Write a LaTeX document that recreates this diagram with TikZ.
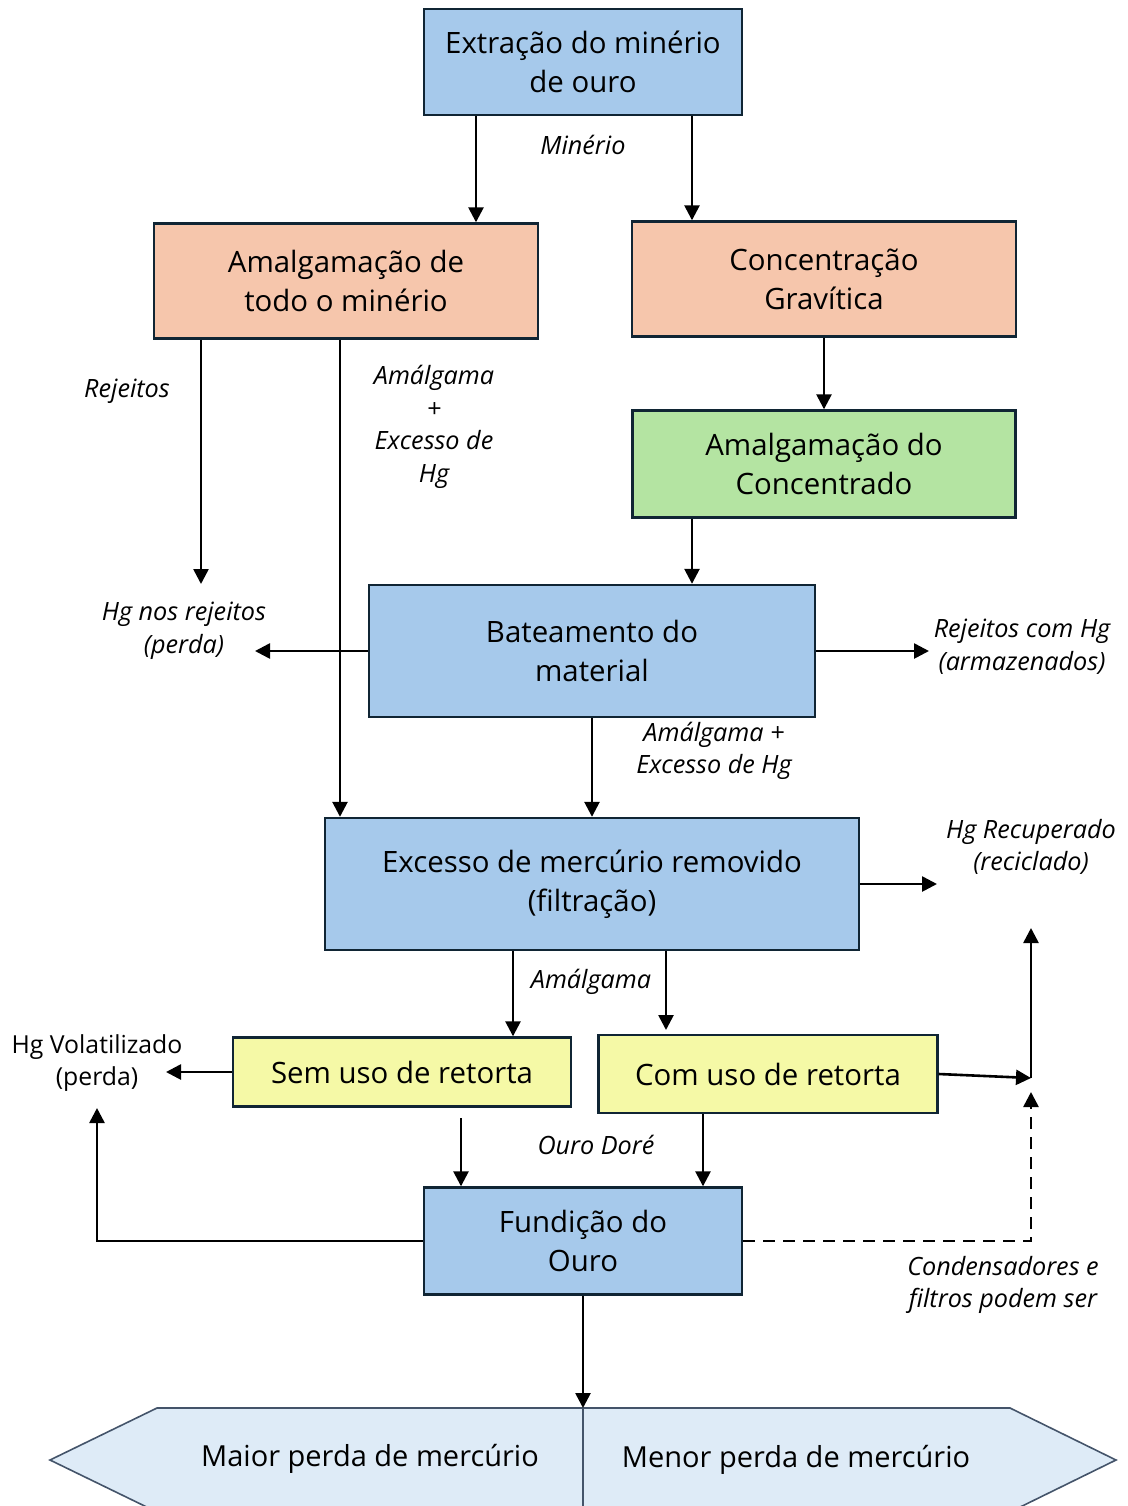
\documentclass[tikz,border=0pt]{standalone}
\usepackage{fontspec}
\setmainfont{Open Sans}
\usepackage{tikz}
\usetikzlibrary{arrows.meta}
\tikzstyle{flowchart} = [x = .5pt, y = -.5pt]
\definecolor{boxBlue}{RGB}{166,201,235}
\definecolor{boxPeach}{RGB}{246,198,172}
\definecolor{boxGreen}{RGB}{180,228,162}
\definecolor{boxYellow}{RGB}{245,249,166}
\definecolor{boxLine}{RGB}{16,37,52}
\definecolor{hexFill}{RGB}{222,235,247}
\definecolor{hexLine}{RGB}{68,84,106}
\newcommand{\px}{.5pt}
\tikzstyle{boxStyle} = [draw=boxLine, line width=1.2pt, align=center, inner sep=0pt, font=\fontsize{14.7}{19.5}\selectfont]
\tikzstyle{flowArrow} = [-{Triangle[length=7.5pt, width=7.5pt]}, line width=1.3pt]
\tikzstyle{flowText} = [align=center, inner sep=0pt, font=\itshape\fontsize{12.6}{16.3}\selectfont]
\tikzstyle{plainText} = [align=center, inner sep=0pt, font=\fontsize{12.4}{16.3}\selectfont]
\tikzstyle{hexStyle} = [draw=hexLine, fill=hexFill, line width=.8pt]
\tikzstyle{hexText} = [inner sep=0pt, font=\fontsize{14.5}{19}\selectfont]
\newcommand{\processBox}[7]{\node [boxStyle, fill=#6, minimum width=#4*\px, minimum height=#5*\px] (#1) at (#2,#3) {#7};}

\begin{document}
\begin{tikzpicture}[flowchart]
  \useasboundingbox (0,0) rectangle (1128,1506);
  \clip (0,0) rectangle (1128,1506);

  % boxes
  \processBox{extracao}{583}{62}{318}{106}{boxBlue}{Extração do minério\\de ouro}
  \processBox{amalgamaTodo}{346}{281}{384}{115}{boxPeach}{Amalgamação de\\todo o minério}
  \processBox{concentracao}{824}{279}{384}{115}{boxPeach}{Concentração\\Gravítica}
  \processBox{amalgamaConc}{824}{464}{383}{107}{boxGreen}{Amalgamação do\\Concentrado}
  \processBox{bateamento}{592}{651}{446}{132}{boxBlue}{Bateamento do\\material}
  \processBox{excesso}{592}{884}{534}{132}{boxBlue}{Excesso de mercúrio removido\\(filtração)}
  \processBox{semRetorta}{402}{1072}{338}{69}{boxYellow}{Sem uso de retorta}
  \processBox{comRetorta}{768}{1074}{339}{78}{boxYellow}{Com uso de retorta}
  \processBox{fundicao}{583}{1241}{318}{107}{boxBlue}{Fundição do\\Ouro}

  % labels
  \node [flowText] (minerio) at (583,145) {Minério};
  \node [flowText] (rejeitos) at (127,391) {Rejeitos};
  \node [flowText] (amalgamaHg) at (434,427) {Amálgama\\+\\Excesso de\\Hg};
  \node [flowText] (hgRejeitos) at (184,631) {Hg nos rejeitos\\(perda)};
  \node [flowText] (rejeitosHg) at (1022,647) {Rejeitos com Hg\\(armazenados)};
  \node [flowText] (amalgamaHgBat) at (714,751) {Amálgama +\\Excesso de Hg};
  \node [flowText] (hgRecuperado) at (1031,847) {Hg Recuperado\\(reciclado)};
  \node [flowText] (amalgama) at (591,982) {Amálgama};
  \node [plainText] (hgVolatil) at (97,1063) {Hg Volatilizado\\(perda)};
  \node [flowText] (ouroDore) at (596,1145) {Ouro Doré};
  \node [flowText] (condensadores) at (1003,1285) {Condensadores e\\filtros podem ser};

  % free ends
  \coordinate (rejeitosEnd) at (201,584);
  \coordinate (perdaEnd) at (255,651);
  \coordinate (armazEnd) at (929,651);
  \coordinate (reciclEnd) at (937,884);
  \coordinate (comTop) at (666,1030);
  \coordinate (volatilEnd) at (166,1072);
  \coordinate (junction) at (1031,1078);
  \coordinate (recupEnd) at (1031,928);
  \coordinate (condensEnd) at (1031,1092);
  \coordinate (volatilUp) at (97,1108);
  \coordinate (semBottom) at (461,1118);
  \coordinate (hexTop) at (583,1408);

  % bottom shape
  \filldraw [hexStyle] (50,1460) -- (157,1408) -- (1010,1408) -- (1116,1460) -- (1010,1512) -- (157,1512) -- cycle;
  \draw [hexLine, line width=.8pt] (hexTop) -- (583,1512);
  \node [hexText] (maiorPerda) at (370,1459) {Maior perda de mercúrio};
  \node [hexText] (menorPerda) at (796,1460) {Menor perda de mercúrio};

  % connectors
  \draw [flowArrow] (extracao.south -| 476,0) -- (amalgamaTodo.north -| 476,0);
  \draw [flowArrow] (extracao.south -| 692,0) -- (concentracao.north -| 692,0);
  \draw [flowArrow] (concentracao.south) -- (amalgamaConc.north);
  \draw [flowArrow] (amalgamaConc.south -| 692,0) -- (bateamento.north -| 692,0);
  \draw [flowArrow] (amalgamaTodo.south -| 201,0) -- (rejeitosEnd);
  \draw [flowArrow] (amalgamaTodo.south -| 340,0) -- (excesso.north -| 340,0);
  \draw [flowArrow] (bateamento.west) -- (perdaEnd);
  \draw [flowArrow] (bateamento.east) -- (armazEnd);
  \draw [flowArrow] (bateamento.south) -- (excesso.north);
  \draw [flowArrow] (excesso.east) -- (reciclEnd);
  \draw [flowArrow] (excesso.south -| 513,0) -- (semRetorta.north -| 513,0);
  \draw [flowArrow] (excesso.south -| 666,0) -- (comTop);
  \draw [flowArrow] (semRetorta.west) -- (volatilEnd);
  \draw [flowArrow] (comRetorta.east) -- (junction);
  \draw [flowArrow] (junction) -- (recupEnd);
  \draw [flowArrow, dashed, dash pattern=on 6pt off 4pt] (fundicao.east) -| (condensEnd);
  \draw [flowArrow] (fundicao.west) -| (volatilUp);
  \draw [flowArrow] (semBottom) -- (fundicao.north -| 461,0);
  \draw [flowArrow] (comRetorta.south -| 703,0) -- (fundicao.north -| 703,0);
  \draw [flowArrow] (fundicao.south) -- (hexTop);
\end{tikzpicture}
\end{document}
